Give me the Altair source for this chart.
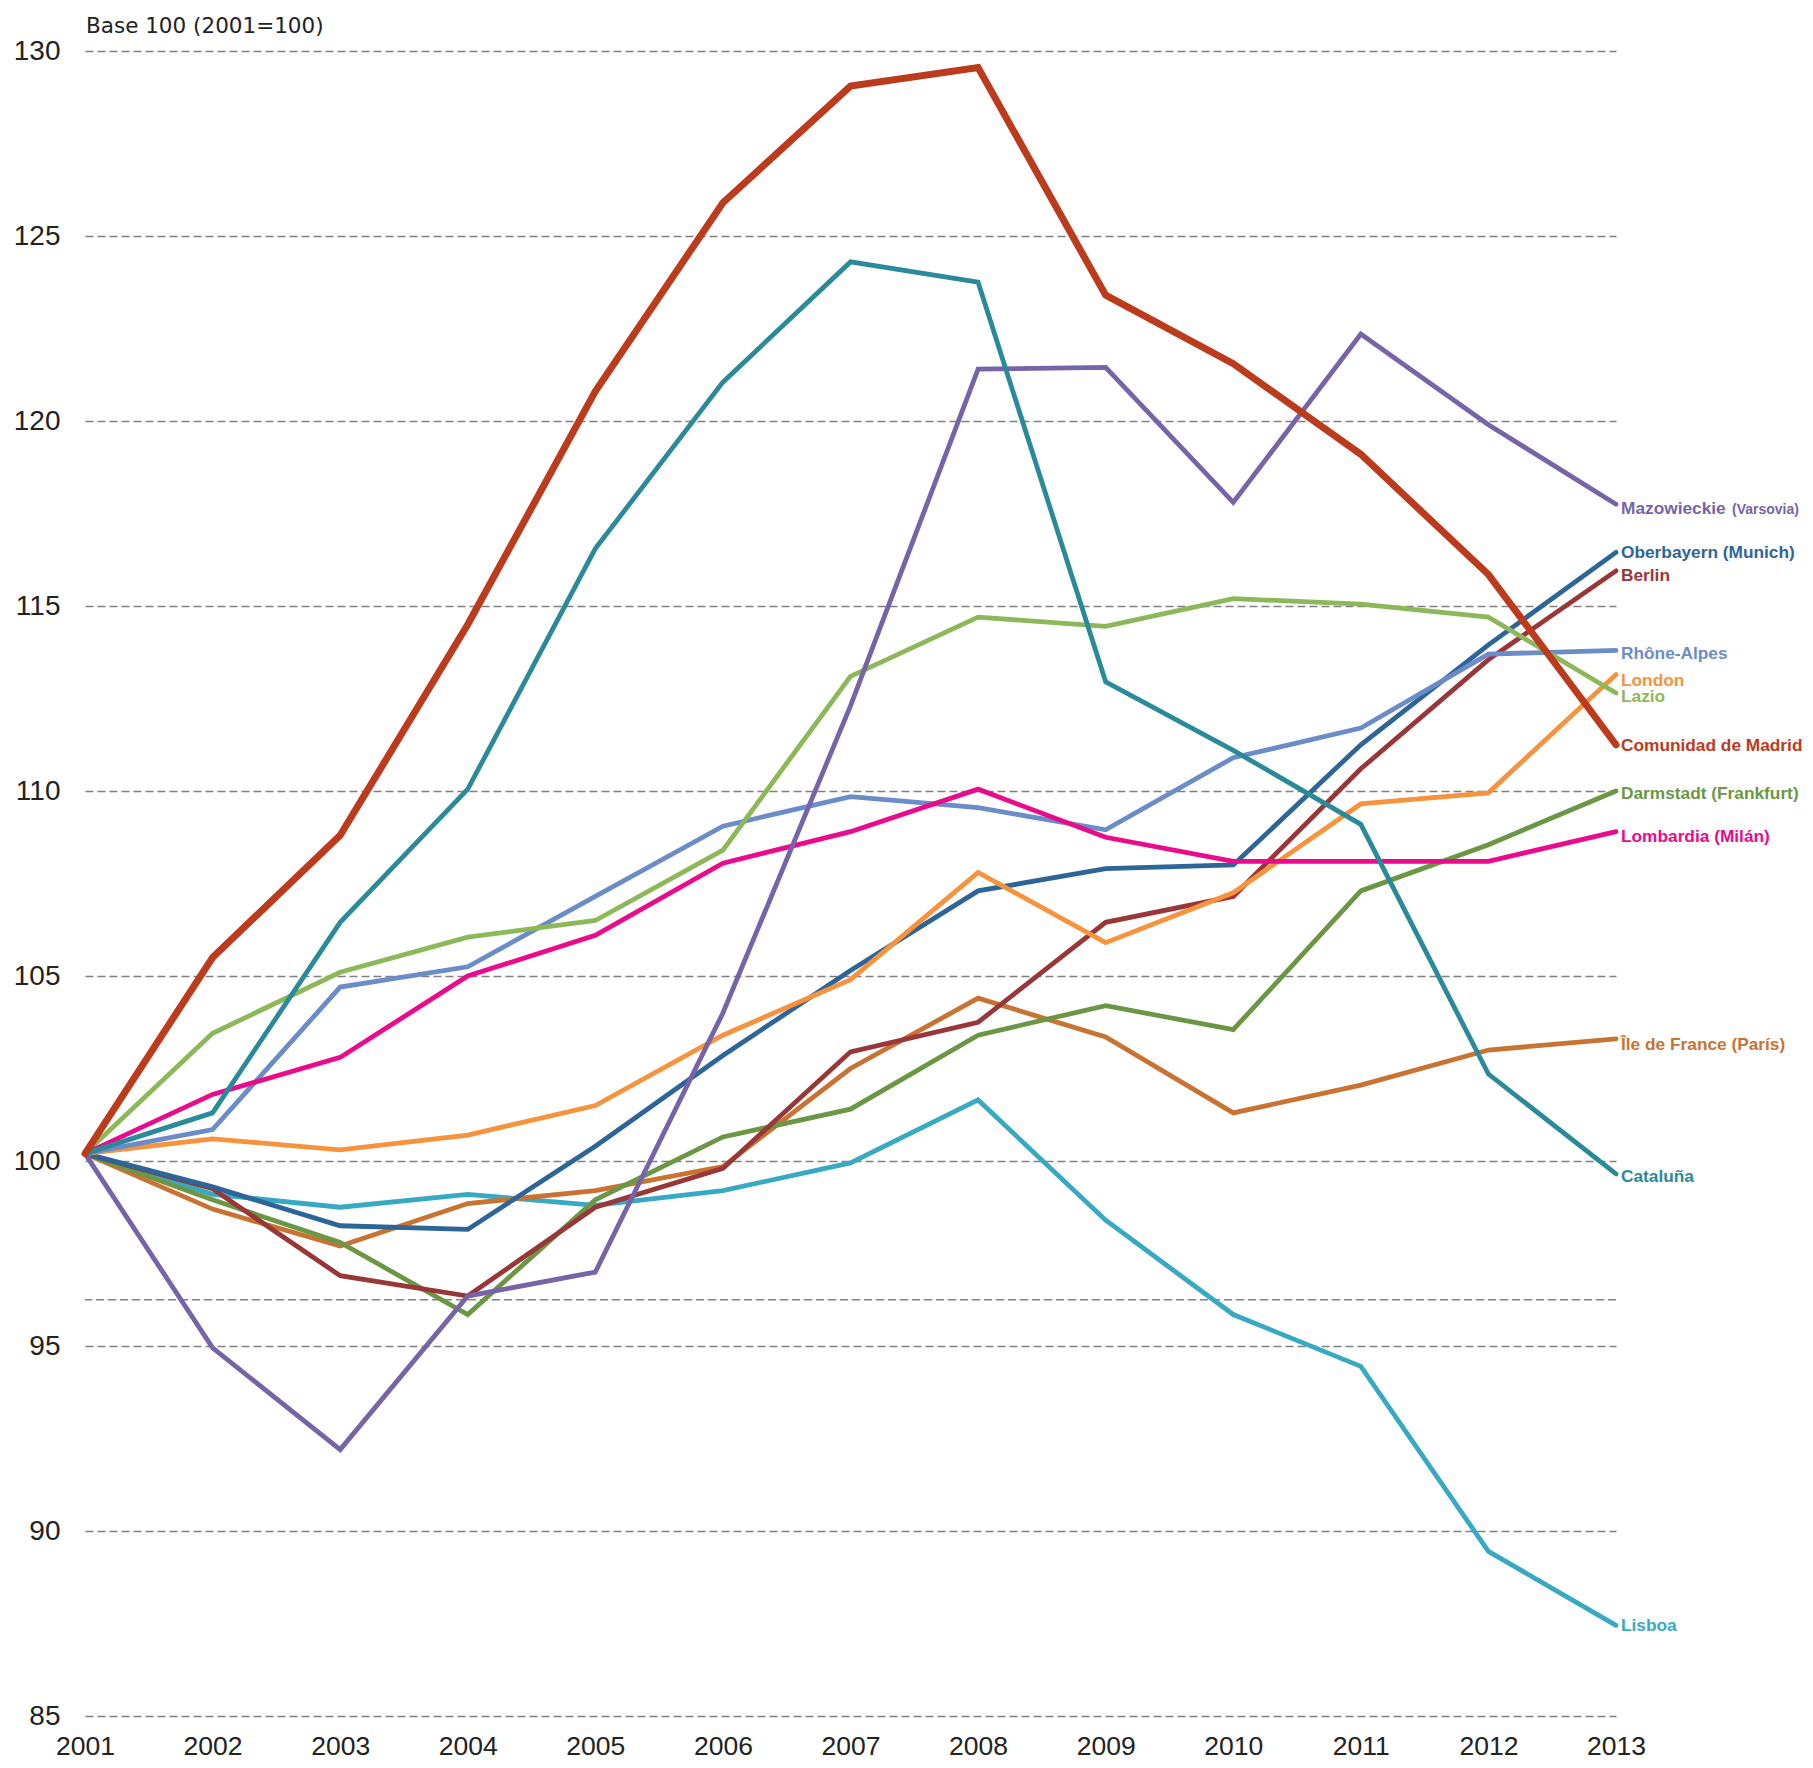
import altair as alt
import pandas as pd

years = list(range(2001, 2014))

madrid      = [100.2, 105.5, 108.8, 114.5, 120.8, 125.9, 129.05, 129.55, 123.4, 121.55, 119.1, 115.85, 111.25]
cataluna    = [100.2, 101.3, 106.45, 110.05, 116.55, 121.05, 124.3, 123.75, 112.95, 111.1, 109.1, 102.35, 99.65]
mazowieckie = [100.2, 94.95, 92.2, 96.35, 97.0, 104.0, 112.3, 121.4, 121.45, 117.8, 122.35, 119.9, 117.75]
oberbayern  = [100.2, 99.3, 98.25, 98.15, 100.4, 102.85, 105.15, 107.3, 107.9, 108.0, 111.25, 113.95, 116.45]
berlin      = [100.2, 99.25, 96.9, 96.35, 98.75, 99.8, 102.95, 103.75, 106.45, 107.15, 110.6, 113.55, 115.95]
rhone       = [100.2, 100.85, 104.7, 105.25, 107.15, 109.05, 109.85, 109.55, 108.95, 110.9, 111.7, 113.7, 113.8]
london      = [100.2, 100.6, 100.3, 100.7, 101.5, 103.4, 104.9, 107.8, 105.9, 107.25, 109.65, 109.95, 113.15]
lazio       = [100.2, 103.45, 105.1, 106.05, 106.5, 108.4, 113.1, 114.7, 114.45, 115.2, 115.05, 114.7, 112.65]
darmstadt   = [100.2, 98.95, 97.8, 95.85, 98.95, 100.65, 101.4, 103.4, 104.2, 103.55, 107.3, 108.55, 110.0]
lombardia   = [100.2, 101.8, 102.8, 105.0, 106.1, 108.05, 108.9, 110.05, 108.75, 108.1, 108.1, 108.1, 108.9]
iledefrance = [100.2, 98.7, 97.7, 98.85, 99.2, 99.85, 102.5, 104.4, 103.35, 101.3, 102.05, 103.0, 103.3]
lisboa      = [100.2, 99.1, 98.75, 99.1, 98.8, 99.2, 99.95, 101.65, 98.4, 95.85, 94.45, 89.45, 87.45]

names = ["Lisboa", "Île de France (París)", "Darmstadt (Frankfurt)", "Berlin",
         "Oberbayern (Munich)", "London", "Rhône-Alpes", "Lazio", "Lombardia (Milán)",
         "Mazowieckie", "Cataluña", "Comunidad de Madrid"]
values = [lisboa, iledefrance, darmstadt, berlin, oberbayern, london, rhone, lazio,
          lombardia, mazowieckie, cataluna, madrid]
colors = ["#38A9C3", "#C87332", "#6B9744", "#983638", "#2E6598", "#F7933D", "#6A8CC8",
          "#8CB85A", "#EA0A8C", "#7763A8", "#2A8A9A", "#BC3B1C"]

# label nudges (pixels, alphabetic baseline)
label_dy = {"Lisboa": 5.5, "Île de France (París)": 11, "Darmstadt (Frankfurt)": 8,
            "Berlin": 10, "Oberbayern (Munich)": 6, "London": 11.5, "Rhône-Alpes": 8.5,
            "Lazio": 9.5, "Lombardia (Milán)": 10, "Mazowieckie": 9.5, "Cataluña": 8.5,
            "Comunidad de Madrid": 6}

W, H = 1531, 1665
FONT = "Liberation Sans"

xenc = alt.X("year:Q", scale=alt.Scale(domain=[2001, 2013], nice=False, zero=False),
             axis=alt.Axis(values=years, format="d", grid=False, domain=False, ticks=False,
                           labelFontSize=26.5, labelFont=FONT, labelColor="#222",
                           labelPadding=17, labelFlush=False, labelOverlap=False, title=None))
yenc = alt.Y("value:Q", scale=alt.Scale(domain=[85, 130], nice=False, zero=False),
             axis=alt.Axis(values=list(range(85, 131, 5)), grid=True, gridDash=[8, 4],
                           gridColor="#808080", gridWidth=1.3, domain=False, ticks=False,
                           labelFontSize=28, labelFont=FONT, labelColor="#222",
                           labelPadding=25, title=None))

layers = []
extra = alt.Chart(pd.DataFrame({"value": [96.25]})).mark_rule(
    strokeDash=[8, 4], color="#808080", strokeWidth=1.3).encode(y=yenc)
layers.append(extra)

for name, vals, col in zip(names, values, colors):
    d = pd.DataFrame({"year": years, "value": vals, "series": name})
    sw = 7 if name == "Comunidad de Madrid" else 4.8
    layers.append(alt.Chart(d).mark_line(color=col, strokeWidth=sw, strokeCap="round")
                  .encode(x=xenc, y=yenc))

for name, vals, col in zip(names, values, colors):
    d = pd.DataFrame({"year": [years[-1]], "value": [vals[-1]], "label": [name]})
    layers.append(alt.Chart(d).mark_text(align="left", baseline="alphabetic", dx=5,
                                         dy=label_dy[name], fontSize=17.3, fontWeight="bold",
                                         font=FONT, color=col)
                  .encode(x=xenc, y=yenc, text="label:N"))
    if name == "Mazowieckie":
        d2 = pd.DataFrame({"year": [years[-1]], "value": [vals[-1]], "label": ["(Varsovia)"]})
        layers.append(alt.Chart(d2).mark_text(align="left", baseline="alphabetic", dx=116,
                                              dy=label_dy[name], fontSize=14,
                                              fontWeight="bold", font=FONT, color=col)
                      .encode(x=xenc, y=yenc, text="label:N"))

title = alt.Chart(pd.DataFrame({"t": ["Base 100 (2001=100)"]})).mark_text(
    align="left", baseline="alphabetic", fontSize=21.5, font="DejaVu Sans",
    color="#222").encode(x=alt.value(1), y=alt.value(-18), text="t:N")
layers.append(title)

chart = alt.layer(*layers).properties(
    width=W, height=H,
    autosize=alt.AutoSizeParams(type="none"),
    padding={"left": 77, "top": 43, "right": 189, "bottom": 44},
    background="white",
).configure_view(stroke=None)

chart.save("out.html", embed_options={"renderer": "svg", "actions": False})
